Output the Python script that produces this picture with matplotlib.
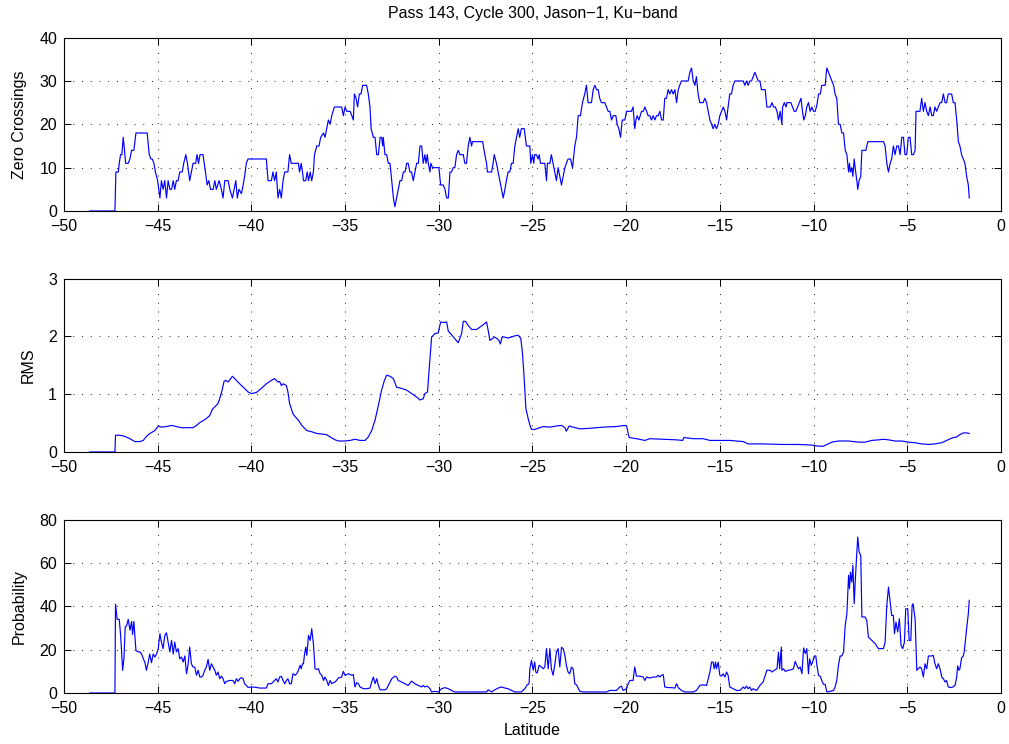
import numpy as np
import matplotlib
matplotlib.use("Agg")
import matplotlib.pyplot as plt

plt.rcParams['font.family'] = ['Liberation Sans', 'DejaVu Sans']
plt.rcParams['font.size'] = 11.5

# zero crossings along track
zc_lat = [
    -48.62, -47.28, -47.23, -47.10, -47.05, -46.98, -46.91, -46.84, -46.79, -46.71,
    -46.57, -46.48, -46.39, -46.27, -46.16, -45.56, -45.45, -45.36, -45.29, -45.20,
    -45.12, -45.00, -44.94, -44.88, -44.80, -44.71, -44.62, -44.53, -44.44, -44.35,
    -44.26, -44.17, -44.09, -44.00, -43.91, -43.82, -43.69, -43.61, -43.50, -43.41,
    -43.29, -43.20, -43.11, -42.97, -42.90, -42.82, -42.74, -42.58, -42.45, -42.36,
    -42.27, -42.18, -42.04, -41.95, -41.87, -41.72, -41.60, -41.51, -41.42, -41.24,
    -41.15, -41.01, -40.92, -40.83, -40.75, -40.66, -40.53, -40.44, -40.36, -40.27,
    -40.18, -39.20, -39.11, -38.93, -38.85, -38.76, -38.67, -38.58, -38.49, -38.40,
    -38.31, -38.22, -38.05, -37.96, -37.87,
    -37.66, -37.49, -37.43, -37.34, -37.27, -37.22, -37.10, -37.02, -36.95, -36.86,
    -36.78, -36.69, -36.63, -36.51, -36.39, -36.30, -36.15, -36.07, -35.98, -35.89,
    -35.80, -35.71, -35.57, -35.18, -35.09, -35.00, -34.91, -34.73, -34.64, -34.56,
    -34.50, -34.41, -34.33, -34.24, -34.15, -34.06, -33.85, -33.76, -33.67, -33.61,
    -33.49, -33.40, -33.31, -33.22, -33.13, -33.05, -32.99, -32.96, -32.87, -32.78,
    -32.69, -32.60, -32.51, -32.42, -32.34, -32.25, -32.16, -32.07, -31.98, -31.89,
    -31.80, -31.71, -31.63, -31.54, -31.45, -31.36, -31.27, -31.18, -31.09, -31.00,
    -30.91, -30.83, -30.74, -30.68, -30.61, -30.56, -30.47, -30.42, -30.33, -30.20,
    -29.99, -29.90, -29.76, -29.67, -29.58, -29.49, -29.40, -29.32, -29.23, -29.14,
    -29.05, -28.96, -28.87, -28.69, -28.61, -28.52, -28.43, -28.34, -28.25, -28.20,
    -27.66, -27.54, -27.45, -27.40, -27.18, -27.10, -27.04, -26.92, -26.83, -26.74,
    -26.65, -26.56, -26.47, -26.39, -26.30, -26.21, -26.12, -26.03, -25.94, -25.85,
    -25.76, -25.68, -25.59, -25.44, -25.32,
    -25.14, -25.09, -25.00, -24.93, -24.88, -24.79, -24.70, -24.64, -24.57, -24.34,
    -24.25, -24.20, -24.07, -23.99, -23.90, -23.81, -23.72, -23.63, -23.54, -23.45,
    -23.36, -23.27, -23.19, -23.10, -22.97, -22.86, -22.74, -22.65, -22.56, -22.44,
    -22.33, -22.21, -22.12, -22.03, -21.85, -21.76, -21.67, -21.58, -21.49, -21.41,
    -21.32, -21.14, -21.05, -20.96, -20.87, -20.78, -20.69, -20.55, -20.48, -20.39,
    -20.30, -20.21, -20.07, -19.98, -19.89, -19.80, -19.72, -19.63, -19.54, -19.48,
    -19.41, -19.32, -19.18, -19.09, -19.00, -18.91, -18.83, -18.74, -18.65, -18.56,
    -18.47, -18.38, -18.29, -18.20, -18.11, -18.02, -17.94, -17.85, -17.76, -17.67,
    -17.58, -17.49, -17.40, -17.31, -17.22, -17.14, -17.05, -16.69, -16.60, -16.51,
    -16.42, -16.33, -16.25, -16.16, -16.07, -15.89, -15.80, -15.71, -15.62, -15.53,
    -15.44, -15.36, -15.27, -15.18, -15.09, -15.00, -14.91, -14.82, -14.73, -14.64,
    -14.56, -14.47, -14.38, -14.29, -14.20, -13.75, -13.67, -13.58, -13.49, -13.40,
    -13.31, -13.22, -13.13, -13.04, -12.95, -12.86, -12.78, -12.69,
    -12.58, -12.49, -12.31, -12.22, -12.13, -12.04, -11.95, -11.87, -11.78, -11.69,
    -11.65, -11.56, -11.47, -11.42, -11.30, -11.21, -11.12, -11.03, -10.94, -10.85,
    -10.76, -10.67, -10.59, -10.52, -10.44, -10.36, -10.27, -10.18, -10.09, -10.00,
    -9.91, -9.82, -9.73, -9.64, -9.56, -9.38, -9.29, -9.20, -9.11, -9.02,
    -8.93, -8.85, -8.76, -8.67, -8.58, -8.49, -8.40, -8.31, -8.22, -8.13,
    -8.08, -8.03, -7.96, -7.90, -7.83, -7.78, -7.69, -7.64, -7.57, -7.48,
    -7.42, -7.21, -7.10, -6.27, -6.18, -6.09, -6.00, -5.91, -5.83, -5.74,
    -5.65, -5.56, -5.47, -5.38, -5.29, -5.20, -5.12, -5.03, -4.94, -4.85,
    -4.76, -4.67, -4.58, -4.53, -4.32, -4.23, -4.14, -4.05, -3.96, -3.87,
    -3.78, -3.69, -3.61, -3.52, -3.43, -3.34, -3.25, -3.16, -3.07, -2.98,
    -2.90, -2.81, -2.63, -2.54, -2.45, -2.36, -2.27, -2.19, -2.10, -2.01,
    -1.92, -1.83, -1.74, -1.69,
]
zc_val = [
    0, 0, 9, 9, 11, 13, 13, 17, 15, 11,
    11, 12, 14, 14, 18, 18, 13, 12, 12, 11,
    9, 7, 5, 3, 7, 5, 7, 3, 7, 5,
    5, 7, 5, 7, 7, 9, 9, 11, 13, 11,
    7, 9, 11, 11, 13, 11, 13, 13, 9, 6,
    7, 5, 5, 7, 5, 7, 5, 3, 7, 7,
    5, 3, 5, 7, 3, 5, 4, 6, 8, 11,
    12, 12, 7, 7, 9, 7, 9, 3, 5, 3,
    7, 9, 9, 13, 11,
    11, 11, 9, 11, 9, 7, 7, 9, 7, 9,
    7, 9, 13, 15, 15, 17, 18, 17, 19, 21,
    20, 22, 24, 24, 22, 24, 23, 23, 22, 21,
    27, 26, 24, 27, 27, 29, 29, 27, 24, 19,
    17, 17, 13, 13, 17, 17, 15, 17, 13, 13,
    11, 11, 7, 3, 1, 3, 5, 7, 7, 9,
    9, 11, 11, 9, 9, 7, 9, 11, 11, 15,
    15, 11, 13, 11, 13, 11, 9, 11, 10, 10,
    10, 6, 6, 5, 3, 3, 9, 9, 10, 10,
    13, 14, 13, 13, 11, 11, 15, 17, 15, 16,
    16, 13, 11, 9, 9, 11, 13, 11, 9, 7,
    5, 3, 5, 7, 9, 9, 11, 11, 15, 17,
    19, 17, 19, 19, 15,
    15, 11, 13, 11, 13, 13, 12, 13, 11, 11,
    7, 11, 11, 13, 11, 9, 7, 10, 8, 6,
    8, 10, 11, 12, 12, 10, 15, 17, 22, 22,
    25, 27, 29, 25, 25, 28, 29, 28, 28, 26,
    25, 25, 24, 23, 23, 21, 22, 22, 20, 19,
    17, 21, 21, 23, 23, 23, 23, 24, 19, 21,
    22, 21, 23, 23, 24, 23, 22, 22, 21, 22,
    21, 22, 22, 23, 21, 21, 26, 26, 28, 27,
    28, 27, 28, 25, 28, 29, 30, 30, 32, 33,
    30, 29, 31, 27, 25, 25, 26, 25, 23, 21,
    20, 19, 20, 19, 20, 22, 23, 24, 23, 21,
    24, 27, 27, 29, 30, 30, 29, 30, 29, 30,
    30, 31, 32, 31, 30, 30, 28, 28,
    28, 24, 24, 25, 24, 24, 23, 21, 23, 20,
    24, 25, 24, 25, 25, 25, 24, 23, 23, 24,
    25, 26, 23, 21, 22, 24, 25, 23, 24, 23,
    23, 24.5, 27, 27, 29, 29, 33, 32, 31, 30,
    29, 27, 26, 20, 20, 18, 18, 14, 13, 9,
    11, 9, 10, 8, 12, 10, 7, 5, 7, 8,
    14, 14, 16, 16, 15, 11, 9, 11, 12, 15,
    13, 15, 15, 13, 17, 17, 13, 13, 17, 17,
    13, 13, 14, 23, 23, 26, 23, 25, 23, 22,
    24, 22, 22, 24, 23, 24, 25, 25, 27, 25,
    25, 27, 27, 25, 25, 21, 16, 15, 13, 12,
    11, 8, 6, 3,
]

# rms along track
rms_lat = [
    -48.62, -47.28, -47.25, -47.02, -46.75, -46.48, -46.22, -45.95, -45.77, -45.60,
    -45.42, -45.15, -44.97, -44.80, -44.53, -44.26, -44.00, -43.73, -43.37, -43.11,
    -42.93, -42.75, -42.58, -42.40, -42.22, -42.08, -41.95, -41.78, -41.69, -41.56,
    -41.46, -41.37, -41.24, -41.10, -41.01, -40.89, -40.71, -40.53, -40.36, -40.18,
    -40.00, -39.73, -39.47, -39.20, -38.93, -38.76, -38.58, -38.49, -38.40, -38.31,
    -38.13, -38.05, -37.96, -37.78,
    -37.66, -37.49, -37.31, -37.04, -36.78, -36.51, -36.24, -35.98, -35.80, -35.53,
    -35.36, -35.00, -34.73, -34.47, -34.20, -33.93, -33.76, -33.58, -33.40, -33.22,
    -33.05, -32.90, -32.78, -32.60, -32.42, -32.25, -31.98, -31.71, -31.45, -31.18,
    -31.00, -30.83, -30.74, -30.60, -30.51, -30.38, -30.20, -30.03, -29.90, -29.76,
    -29.58, -29.49, -29.32, -29.14, -28.96, -28.78, -28.69, -28.57, -28.43, -28.25,
    -27.98, -27.81, -27.63, -27.45, -27.36, -27.27, -27.15, -27.04, -26.92, -26.79,
    -26.71, -26.62, -26.51, -26.30, -26.12, -25.94, -25.76, -25.62, -25.53, -25.44,
    -25.35, -25.23,
    -25.14, -25.05, -24.88, -24.70, -24.43, -24.07, -23.72, -23.45, -23.27, -23.19,
    -23.04, -22.83, -22.47, -21.94, -21.23, -20.52, -20.07, -19.98, -19.84, -19.45,
    -19.00, -18.74, -18.02, -17.31, -16.99, -16.92, -16.69, -16.42, -15.89, -15.53,
    -15.00, -14.47, -13.75, -13.49, -12.69,
    -11.69, -10.80, -10.09, -9.73, -9.47, -9.29, -9.02, -8.67, -8.13, -7.60,
    -7.25, -6.89, -6.54, -6.27, -6.00, -5.65, -5.29, -4.94, -4.58, -4.23,
    -3.87, -3.52, -3.16, -2.90, -2.63, -2.36, -2.19, -2.01, -1.83, -1.69,
]
rms_val = [
    0, 0, 0.29, 0.29, 0.27, 0.23, 0.18, 0.18, 0.20, 0.27,
    0.32, 0.37, 0.45, 0.43, 0.44, 0.46, 0.44, 0.42, 0.42, 0.42,
    0.46, 0.51, 0.54, 0.58, 0.63, 0.74, 0.78, 0.84, 0.92, 1.07,
    1.22, 1.24, 1.21, 1.27, 1.31, 1.27, 1.21, 1.15, 1.10, 1.04,
    1.01, 1.03, 1.10, 1.18, 1.24, 1.27, 1.21, 1.22, 1.15, 1.18,
    1.15, 1.04, 0.84, 0.66,
    0.61, 0.55, 0.46, 0.37, 0.35, 0.32, 0.31, 0.30, 0.26, 0.21,
    0.19, 0.19, 0.20, 0.22, 0.20, 0.20, 0.26, 0.37, 0.55, 0.81,
    1.07, 1.24, 1.33, 1.31, 1.27, 1.12, 1.10, 1.07, 1.01, 0.95,
    0.90, 0.92, 1.01, 1.04, 1.44, 1.99, 2.05, 2.06, 2.25, 2.24,
    2.25, 2.09, 2.03, 1.96, 1.89, 2.05, 2.26, 2.26, 2.19, 2.12,
    2.12, 2.16, 2.20, 2.25, 2.10, 1.93, 1.96, 1.99, 1.97, 1.93,
    1.87, 1.99, 1.99, 1.97, 1.99, 2.01, 2.02, 1.96, 1.70, 1.27,
    0.75, 0.58,
    0.47, 0.39, 0.39, 0.41, 0.44, 0.43, 0.45, 0.46, 0.42, 0.36,
    0.45, 0.43, 0.40, 0.41, 0.43, 0.44, 0.46, 0.45, 0.25, 0.23,
    0.20, 0.23, 0.22, 0.21, 0.20, 0.25, 0.24, 0.23, 0.23, 0.20,
    0.20, 0.20, 0.18, 0.14, 0.14,
    0.13, 0.13, 0.12, 0.10, 0.10, 0.13, 0.17, 0.19, 0.19, 0.17,
    0.17, 0.20, 0.21, 0.22, 0.21, 0.19, 0.19, 0.17, 0.16, 0.14,
    0.13, 0.14, 0.16, 0.20, 0.24, 0.26, 0.30, 0.33, 0.33, 0.32,
]

# probability along track
prob_lat = [
    -48.62, -47.28, -47.25, -47.16, -47.05, -46.98, -46.93, -46.87, -46.80, -46.73,
    -46.66, -46.57, -46.48, -46.39, -46.34, -46.27, -46.16, -46.04, -45.95, -45.86,
    -45.77, -45.68, -45.60, -45.51, -45.42, -45.33, -45.24, -45.15, -45.06, -44.97,
    -44.88, -44.80, -44.71, -44.62, -44.53, -44.44, -44.35, -44.26, -44.17, -44.09,
    -44.00, -43.91, -43.82, -43.73, -43.64, -43.55, -43.46, -43.37, -43.29, -43.20,
    -43.11, -43.02, -42.93, -42.84, -42.75, -42.66, -42.58, -42.49, -42.40, -42.31,
    -42.22, -42.13, -42.04, -41.95, -41.87, -41.78, -41.69, -41.60, -41.51, -41.42,
    -41.33, -41.15, -40.98, -40.89, -40.80, -40.71, -40.62, -40.53, -40.44, -40.36,
    -40.27, -40.18, -40.00, -39.73, -39.56, -39.20, -39.11, -38.93, -38.76, -38.67,
    -38.58, -38.49, -38.40, -38.31, -38.22, -38.13, -38.05, -37.96, -37.87, -37.78,
    -37.66, -37.58, -37.49, -37.40, -37.34, -37.27, -37.22, -37.17, -37.10, -37.04,
    -36.95, -36.86, -36.78, -36.69, -36.60, -36.51, -36.42, -36.33, -36.24, -36.15,
    -36.07, -35.98, -35.89, -35.80, -35.71, -35.62, -35.53, -35.36, -35.18, -35.09,
    -35.00, -34.82, -34.64, -34.56, -34.47, -34.38, -34.29, -34.20, -34.02, -33.85,
    -33.67, -33.58, -33.49, -33.40, -33.31, -33.22, -33.13, -32.87, -32.78, -32.69,
    -32.51, -32.34, -32.25, -32.16, -31.98, -31.80, -31.63, -31.45, -31.27, -31.09,
    -30.91, -30.83, -30.74, -30.65, -30.56, -30.47, -30.38, -30.20, -30.03, -29.85,
    -29.67, -29.49, -29.32, -29.14, -27.45, -27.36, -27.18, -27.01, -26.83, -26.65,
    -26.47, -26.30, -26.12, -25.94, -25.59, -25.41, -25.28, -25.18,
    -25.14, -25.05, -24.96, -24.88, -24.82, -24.75, -24.64, -24.52, -24.43, -24.34,
    -24.25, -24.16, -24.07, -23.99, -23.90, -23.81, -23.72, -23.63, -23.54, -23.45,
    -23.36, -23.27, -23.19, -23.10, -23.01, -22.92, -22.83, -22.74, -22.65, -22.56,
    -22.47, -22.30, -21.05, -20.87, -20.52, -20.34, -20.25, -20.16, -19.98, -19.89,
    -19.80, -19.63, -19.54, -19.45, -19.36, -19.27, -19.09, -19.00, -18.91, -18.74,
    -18.56, -18.38, -18.29, -18.20, -18.11, -18.02, -17.94, -17.76, -17.58, -17.40,
    -17.31, -17.22, -17.05, -16.87, -16.42, -16.25, -16.07, -15.89, -15.71, -15.62,
    -15.53, -15.44, -15.36, -15.30, -15.23, -15.18, -15.09, -15.00, -14.91, -14.82,
    -14.73, -14.64, -14.56, -14.47, -14.29, -14.11, -13.93, -13.75, -13.67, -13.58,
    -13.49, -13.40, -13.31, -13.22, -13.04, -12.86, -12.78, -12.69,
    -12.49, -12.31, -12.22, -12.04, -11.95, -11.87, -11.81, -11.72, -11.69, -11.60,
    -11.51, -11.33, -11.15, -11.07, -10.98, -10.89, -10.80, -10.71, -10.62, -10.53,
    -10.44, -10.36, -10.27, -10.21, -10.12, -10.05, -9.96, -9.88, -9.82, -9.73,
    -9.64, -9.56, -9.47, -9.38, -9.29, -9.11, -8.93, -8.85, -8.76, -8.67,
    -8.58, -8.49, -8.40, -8.31, -8.22, -8.13, -8.08, -8.03, -7.96, -7.90,
    -7.83, -7.78, -7.69, -7.64, -7.57, -7.48, -7.42, -7.25, -7.16, -7.07,
    -6.89, -6.71, -6.54, -6.27, -6.18, -6.09, -6.00, -5.91, -5.83, -5.74,
    -5.68, -5.60, -5.51, -5.42, -5.33, -5.24, -5.15, -5.08, -4.97, -4.90,
    -4.81, -4.74, -4.69, -4.58, -4.49, -4.32, -4.23, -4.14, -4.05, -3.96,
    -3.87, -3.69, -3.61, -3.52, -3.43, -3.34, -3.25, -3.16, -3.07, -2.98,
    -2.90, -2.81, -2.63, -2.45, -2.36, -2.31, -2.24, -2.19, -2.10, -2.01,
    -1.96, -1.83, -1.74, -1.69,
]
prob_val = [
    0, 0, 41, 34, 34, 27, 20, 10.5, 16, 30.5,
    31, 34, 29, 33, 27, 33, 19.7, 19, 19, 18,
    16, 14, 10.5, 14, 18, 14, 18, 16.6, 18, 20.5,
    27.4, 23.5, 20.5, 26.6, 27.8, 23.5, 19, 24.3, 18, 23.5,
    19, 20.5, 15.8, 16.6, 14.3, 17.1, 8.9, 13.5, 21.2, 13.5,
    12, 12, 8.2, 10.5, 7.4, 7.4, 8.2, 10.5, 12, 15.5,
    10.5, 13.5, 12, 10.5, 8.2, 9.7, 6.6, 7.8, 6.6, 4.3,
    5.4, 5.8, 5.8, 4.3, 6.6, 5.4, 6.6, 7.1, 6.6, 4.3,
    3.5, 2.6, 2.8, 2.6, 2.3, 2.3, 4.3, 4.3, 5.8, 6.6,
    5.1, 7.4, 7.7, 5.8, 4.3, 5.8, 6.6, 4.3, 4.3, 8.9,
    8.2, 8.9, 10.5, 12.8, 11.2, 13.5, 13.5, 17.4, 21.2, 17.4,
    26.6, 24.3, 29.7, 22.8, 11.2, 10.9, 11.2, 8.9, 8.2, 5.8,
    7.4, 5.8, 3.5, 5.8, 4.3, 4.8, 5.1, 6.9, 7.4, 10,
    8.2, 8.9, 8.2, 8.5, 2.8, 4.8, 4.3, 2.8, 2, 2,
    2.3, 5.1, 7.4, 4.3, 6.6, 3.5, 1.5, 1.5, 2, 3.5,
    6.6, 7.8, 7.4, 5.8, 5.1, 4.3, 3.5, 5.5, 4.3, 3.5,
    2.8, 3.5, 2.8, 3.2, 2.8, 2, 0.5, 0.8, 0.5, 2,
    2.5, 2, 1.2, 0.5, 0.5, 1.5, 0.5, 1.5, 2.3, 2.8,
    2.3, 2, 1.2, 0.5, 0.5, 2, 3.8, 4.3,
    11.2, 15.1, 10.5, 14.3, 9.7, 9.2, 12.8, 12, 11.2, 12,
    20.5, 11.2, 20.5, 11.2, 8.2, 12.8, 18.9, 20.5, 12, 21.1,
    20.5, 17.4, 12.8, 9.7, 8.9, 12, 11.2, 4.3, 3.8, 2.3,
    0.8, 0.5, 0.5, 1.2, 1.2, 2.8, 3.2, 1.2, 2, 4.3,
    5.8, 5.8, 12, 7.8, 7.8, 7.8, 7.4, 5.8, 7.4, 6.9,
    7.4, 7.4, 8.2, 7.4, 8.2, 8.5, 2.8, 2.5, 2.5, 2.3,
    4.3, 2.5, 1.2, 0.5, 0.5, 1.2, 3.5, 3.8, 3.5, 6.6,
    9.7, 14.3, 14.3, 11.2, 14.3, 11.2, 14.3, 8.2, 7.8, 8.9,
    7.4, 9.7, 8.2, 2.8, 2, 1.2, 1.2, 2.8, 2, 3.2,
    2, 2.8, 1.2, 2, 1.2, 3.5, 4.3, 5.1,
    10.5, 10.5, 9.7, 10.8, 11.2, 18.9, 11.2, 21.2, 10.5, 11.2,
    10, 10.5, 10.9, 11.2, 14.6, 12.8, 11.2, 12, 8.9, 20.8,
    18.2, 20.5, 8.9, 15.8, 12.8, 14.3, 17.1, 17.1, 12.8, 8.2,
    7.7, 5.8, 4, 4, 0.5, 0.8, 1.2, 2.8, 5.8, 12.8,
    17.1, 17.1, 18.9, 31.2, 36.6, 54.3, 48.2, 55.8, 51.2, 58.9,
    41.2, 50.5, 65.1, 72, 65.1, 63.5, 35.1, 35.1, 33.5, 25.8,
    24.3, 22.8, 20.5, 20.5, 23.5, 40.5, 48.9, 42, 35.8, 35.8,
    27.4, 32.8, 28.2, 34.3, 22, 20.5, 23.5, 38.9, 38.9, 24.3,
    24.3, 40.5, 41.2, 34.3, 10.5, 12, 11.2, 7.4, 13.5, 11.2,
    17.1, 17.1, 17.4, 13.5, 11.2, 13.5, 11.2, 7.4, 6.6, 5.1,
    5.8, 2.8, 2.5, 3.5, 7.4, 12.5, 10.5, 11.2, 16.2, 17.1,
    18.9, 29.7, 36.6, 42.8,
]

title = "Pass 143, Cycle 300, Jason\u22121, Ku\u2212band"
panels = [
    (zc_lat, zc_val, "Zero Crossings", [0, 10, 20, 30, 40]),
    (rms_lat, rms_val, "RMS", [0, 1, 2, 3]),
    (prob_lat, prob_val, "Probability", [0, 20, 40, 60, 80]),
]
lat_ticks = list(range(-50, 1, 5))

fig = plt.figure(figsize=(10.09, 7.44), dpi=100)
rects = [
    [0.0634, 0.7164, 0.9286, 0.2330],
    [0.0634, 0.3925, 0.9286, 0.2330],
    [0.0634, 0.0685, 0.9286, 0.2330],
]

for rect, (lat, val, ylab, yt) in zip(rects, panels):
    ax = fig.add_axes(rect)
    ax.plot(lat, val, color=(0, 0, 1), lw=0.85)
    ax.set_xlim(-50, 0)
    ax.set_ylim(yt[0], yt[-1])
    ax.set_xticks(lat_ticks)
    ax.set_yticks(yt)
    ax.set_ylabel(ylab, labelpad=9)
    ax.grid(True, color='#222222', linestyle=(0, (1, 8)), linewidth=0.7)
    ax.tick_params(direction='in', top=True, right=True, length=5,
                   width=0.7, labelsize=11.5)
    ax.tick_params(axis='x', pad=6)
    ax.tick_params(axis='y', pad=5)
    for s in ax.spines.values():
        s.set_linewidth(0.8)
    if ylab == "Zero Crossings":
        ax.set_title(title, fontsize=11.5, pad=14)
    if ylab == "Probability":
        ax.set_xlabel("Latitude", labelpad=5)

fig.savefig("out.png", dpi=100)
